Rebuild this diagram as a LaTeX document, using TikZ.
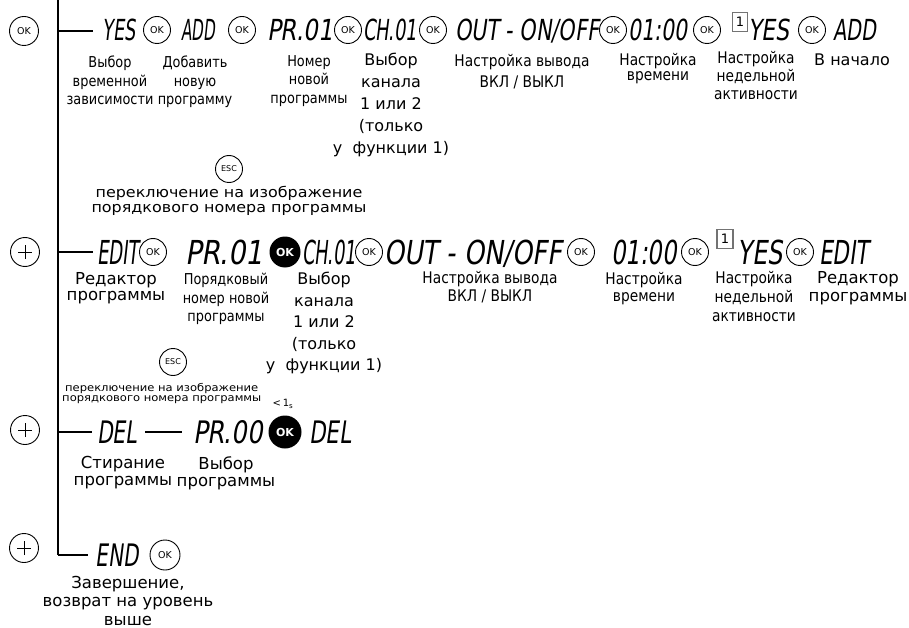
\documentclass[tikz,border=0pt]{standalone}
\usepackage{fontspec}
\usepackage{graphicx}
\setmainfont{DejaVu Sans}
\newfontfamily\lcdf{DejaVu Sans}[FakeSlant=0.2]
\newfontfamily\condf{DejaVu Sans}[FakeStretch=0.86]
\newfontfamily\widef{DejaVu Sans}[FakeStretch=1.1]
\newcommand{\lcdw}[2]{\resizebox{#1}{\height}{#2}}
\tikzset{
  lcd1/.style={font=\lcdf\fontsize{29}{29}\selectfont, inner sep=0pt, text height=21pt, text depth=0pt},
  lcd2/.style={font=\lcdf\fontsize{33}{33}\selectfont, inner sep=0pt, text height=24pt, text depth=0pt},
  lcd3/.style={font=\lcdf\fontsize{31}{31}\selectfont, inner sep=0pt, text height=22.5pt, text depth=0pt},
  okc/.style={circle, draw, line width=0.9pt, minimum size=27pt, inner sep=0pt, font=\fontsize{9.5}{9.5}\selectfont},
  okblack/.style={circle, fill=black, minimum size=31pt, inner sep=0pt, text=white, font=\bfseries\fontsize{11}{11}\selectfont},
  plusc/.style={circle, draw, line width=0.9pt, minimum size=29pt, inner sep=0pt,
    path picture={\draw[line width=1pt] ([xshift=-7pt]path picture bounding box.center) -- ++(14pt,0pt)
      ([yshift=-7pt]path picture bounding box.center) -- ++(0pt,14pt);}},
  daybox/.style={draw=black!55, line width=1.1pt, minimum width=15pt, minimum height=19pt, inner sep=0pt, font=\fontsize{13}{13}\selectfont},
  lblS/.style={font=\condf\fontsize{15}{18.5}\selectfont, align=center, anchor=north, inner sep=0pt},
  lblL/.style={font=\fontsize{16}{22}\selectfont, align=center, anchor=north, inner sep=0pt},
  trunk/.style={line width=1.7pt},
  branch/.style={line width=1.2pt},
}
\begin{document}
\begin{tikzpicture}[x=1pt,y=-1pt]
\useasboundingbox (0,0) rectangle (909,628);
% trunk
\coordinate (top) at (58,0);
\coordinate (bot) at (58,555);
\draw[trunk] (top) -- (bot);
% left markers
\node[okc, minimum size=29pt] (okL) at (24,31) {OK};
\node[plusc] (pl2) at (25,252) {};
\node[plusc] (pl3) at (25,430) {};
\node[plusc] (pl4) at (24,548) {};
% ---------- row 1
\coordinate (j1) at (58,31);
\coordinate (e1) at (93,31);
\draw[branch] (j1) -- (e1);
\node[lcd1] (yes1) at (119,30) {\lcdw{33pt}{YES}};
\node[okc] (k1a) at (157,30) {OK};
\node[lcd1] (add1) at (198,30) {\lcdw{34pt}{ADD}};
\node[okc] (k1b) at (242,30) {OK};
\node[lcd1] (pr1) at (300,30) {\lcdw{66pt}{PR.01}};
\node[okc] (k1c) at (348,30) {OK};
\node[lcd1] (ch1) at (390,30) {\lcdw{54pt}{CH.01}};
\node[okc] (k1d) at (433,30) {OK};
\node[lcd1] (out1) at (527,30) {\lcdw{144pt}{OUT - ON/OFF}};
\node[okc] (k1e) at (613,30) {OK};
\node[lcd1] (tm1) at (658,30) {\lcdw{59pt}{01:00}};
\node[okc] (k1f) at (707,30) {OK};
\node[daybox] (d1) at (740,22) {1};
\node[lcd1] (yes1b) at (769,30) {\lcdw{41pt}{YES}};
\node[okc] (k1g) at (812,30) {OK};
\node[lcd1] (add1b) at (855,30) {\lcdw{43pt}{ADD}};
% row 1 labels
\node[lblS] (l1a) at (110,56) {Выбор\\временной\\зависимости};
\node[lblS] (l1b) at (195,56) {Добавить\\новую\\программу};
\node[lblS] (l1c) at (309,55) {Номер\\новой\\программы};
\node[lblL] (l1d) at (391,53) {Выбор\\канала\\1 или 2\\(только\\у\ \ функции 1)};
\node[lblS, font=\condf\fontsize{16}{21}\selectfont] (l1e) at (522,54) {Настройка вывода\\ВКЛ / ВЫКЛ};
\node[lblS, font=\condf\fontsize{16}{15}\selectfont] (l1f) at (658,53) {Настройка\\времени};
\node[lblS, font=\condf\fontsize{16}{18}\selectfont] (l1g) at (756,51) {Настройка\\недельной\\активности};
\node[lblL] (l1h) at (852,54) {В начало};
% ESC 1
\node[okc, font=\fontsize{8}{8}\selectfont] (esc1) at (229,169) {ESC};
\node[font=\widef\fontsize{14.5}{15}\selectfont, align=center, anchor=north, inner sep=0pt] (c1) at (229,186) {переключение на изображение\\порядкового номера программы};
% ---------- row 2
\coordinate (j2) at (58,252);
\coordinate (e2) at (93,252);
\draw[branch] (j2) -- (e2);
\node[lcd2] (edit2) at (118,252) {\lcdw{42pt}{EDIT}};
\node[okc] (k2a) at (153,252) {OK};
\node[lcd2] (pr2) at (224,252) {\lcdw{78pt}{PR.01}};
\node[okblack] (kb2) at (285,252) {OK};
\node[lcd2] (ch2) at (329,252) {\lcdw{54pt}{CH.01}};
\node[okc] (k2b) at (369,252) {OK};
\node[lcd2] (out2) at (473,252) {\lcdw{178pt}{OUT - ON/OFF}};
\node[okc] (k2c) at (581,252) {OK};
\node[lcd2] (tm2) at (644,252) {\lcdw{66pt}{01:00}};
\node[okc] (k2d) at (695,252) {OK};
\node[daybox, minimum width=16pt] (d2) at (725,239) {1};
\node[lcd2] (yes2) at (760,252) {\lcdw{45pt}{YES}};
\node[okc] (k2e) at (800,252) {OK};
\node[lcd2] (edit2b) at (844,252) {\lcdw{50pt}{EDIT}};
% row 2 labels
\node[lblL, font=\fontsize{16.5}{16}\selectfont] (l2a) at (116,272) {Редактор\\программы};
\node[lblS] (l2b) at (226,273) {Порядковый\\номер новой\\программы};
\node[lblL, font=\fontsize{16}{21.5}\selectfont] (l2c) at (324,272) {Выбор\\канала\\1 или 2\\(только\\у\ \ функции 1)};
\node[lblS, font=\condf\fontsize{16}{18}\selectfont] (l2d) at (490,271) {Настройка вывода\\ВКЛ / ВЫКЛ};
\node[lblS, font=\condf\fontsize{16}{17}\selectfont] (l2e) at (644,272) {Настройка\\времени};
\node[lblS, font=\condf\fontsize{16}{19}\selectfont] (l2f) at (754,271) {Настройка\\недельной\\активности};
\node[lblL, font=\fontsize{16.5}{18}\selectfont] (l2g) at (858,271) {Редактор\\программы};
% ESC 2
\node[okc, font=\fontsize{8}{8}\selectfont] (esc2) at (173,362) {ESC};
\node[font=\widef\fontsize{10.5}{10}\selectfont, align=center, anchor=north west, inner sep=0pt] (c2) at (62,383) {переключение на изображение\\порядкового номера программы};
\node[font=\fontsize{10}{10}\selectfont, inner sep=0pt] (lt) at (283,404) {<\,1\textsubscript{s}};
% ---------- row 3
\coordinate (j3) at (58,432);
\coordinate (e3) at (92,432);
\draw[branch] (j3) -- (e3);
\node[lcd3] (del3) at (117,432) {\lcdw{40pt}{DEL}};
\node[lcd3] (pr3) at (228,432) {\lcdw{70pt}{PR.00}};
\node[okblack, minimum size=33pt] (kb3) at (285,432) {OK};
\node[lcd3] (del3b) at (330,432) {\lcdw{42pt}{DEL}};
\draw[branch] ([xshift=8pt]del3.east) -- ([xshift=-11pt]pr3.west);
\node[lblL, font=\fontsize{16.5}{17}\selectfont] (l3a) at (123,456) {Стирание\\программы};
\node[lblL, font=\fontsize{16.5}{17}\selectfont] (l3b) at (226,456) {Выбор\\программы};
% ---------- row 4
\coordinate (e4) at (88,555);
\draw[branch] (bot) -- (e4);
\node[lcd3] (end4) at (117,555) {\lcdw{43pt}{END}};
\node[okc, minimum size=30pt] (k4) at (165,555) {OK};
\node[lblL, font=\fontsize{16.5}{18.5}\selectfont] (l4) at (128,576) {Завершение,\\возврат на уровень\\выше};
\end{tikzpicture}
\end{document}
